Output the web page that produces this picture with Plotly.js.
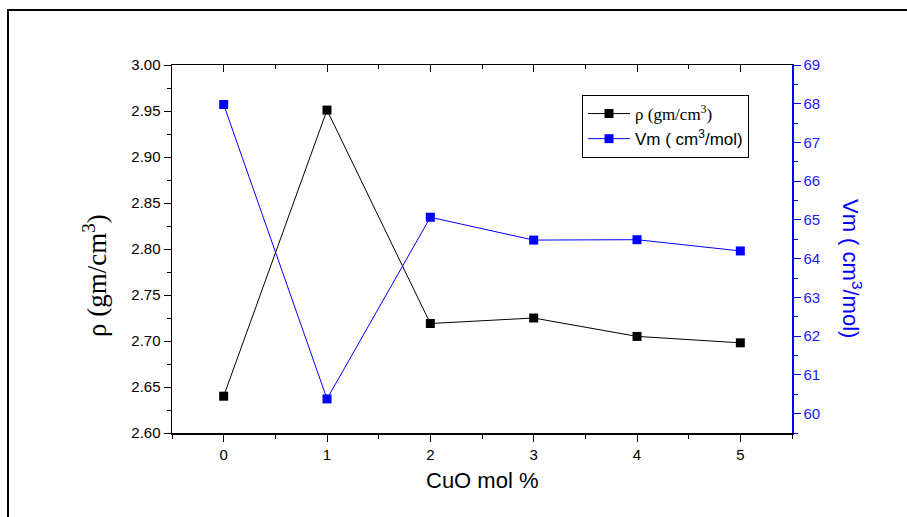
<!DOCTYPE html>
<html>
<head>
<meta charset="utf-8">
<script src="https://cdn.plot.ly/plotly-3.0.1.min.js"></script>
<style>
  html, body { margin: 0; padding: 0; background: #fff; }
  #wrap { position: relative; width: 907px; height: 517px; overflow: hidden; }
  #frame { position: absolute; left: 7px; top: 9px; width: 1000px; height: 1000px;
           border-left: 2.5px solid #000; border-top: 2.5px solid #000; pointer-events: none; z-index: 5; }
  #chart { position: absolute; left: 0; top: 0; width: 907px; height: 517px; }
</style>
</head>
<body>
<div id="wrap">
  <div id="chart"></div>
  <div id="frame"></div>
</div>
<script>
// Data
const cuoMolPct = [0, 1, 2, 3, 4, 5];
const density = [2.640, 2.951, 2.719, 2.725, 2.705, 2.698];   // rho (gm/cm^3)
const molarVolume = [67.98, 60.38, 65.07, 64.48, 64.49, 64.20]; // Vm (cm^3/mol)
const xTickVals = [0, 1, 2, 3, 4, 5];
const xTickText = ['0', '1', '2', '3', '4', '5'];

const rhoName = '<span style="font-family:\'Liberation Serif\',\'Times New Roman\',serif">ρ (gm/cm<sup>3</sup>)</span>';
const vmName = 'Vm ( cm<sup>3</sup>/mol)';

const traces = [
  {
    x: cuoMolPct, y: density, name: rhoName, type: 'scatter', mode: 'lines+markers',
    line: {color: '#000000', width: 1},
    marker: {symbol: 'square', size: 9, color: '#000000'},
    xaxis: 'x', yaxis: 'y', hoverinfo: 'x+y'
  },
  {
    x: cuoMolPct, y: molarVolume, name: vmName, type: 'scatter', mode: 'lines+markers',
    line: {color: '#0000ff', width: 1},
    marker: {symbol: 'square', size: 9, color: '#0000ff'},
    xaxis: 'x', yaxis: 'y2', hoverinfo: 'x+y'
  },
  {
    // empty helper trace so the mirrored top axis (inward ticks) is drawn
    x: [], y: [], xaxis: 'x2', yaxis: 'y', showlegend: false, hoverinfo: 'skip', type: 'scatter'
  }
];

const sans = 'Liberation Sans, Arial, sans-serif';
const tickFont = {family: sans, size: 15, color: '#000'};

const plotW = 907 - 172 - 115, plotH = 517 - 65 - 84;
const px2x = p => (p - 172) / plotW;
const py2y = p => 1 - (p - 65) / plotH;

const layout = {
  width: 907, height: 517,
  margin: {l: 172, r: 115, t: 65, b: 84},
  paper_bgcolor: '#fff', plot_bgcolor: '#fff',
  showlegend: true,
  legend: {
    x: px2x(582), y: py2y(95), xanchor: 'left', yanchor: 'top',
    bordercolor: '#000', borderwidth: 1, bgcolor: '#fff',
    font: {family: sans, size: 17, color: '#000'},
    itemwidth: 42, tracegroupgap: 0
  },
  xaxis: {
    range: [-0.5, 5.5], tickvals: xTickVals, ticktext: xTickText,
    ticks: 'outside', ticklen: 7, tickwidth: 1, tickcolor: '#000',
    minor: {dtick: 0.5, ticks: 'outside', ticklen: 4, tickwidth: 1, tickcolor: '#000'},
    showline: true, linecolor: '#000', linewidth: 1.5,
    showgrid: false, zeroline: false,
    tickfont: tickFont
  },
  xaxis2: {
    overlaying: 'x', matches: 'x', side: 'top', anchor: 'y',
    range: [-0.5, 5.5], tickvals: xTickVals, showticklabels: false,
    ticks: 'inside', ticklen: 7, tickwidth: 1, tickcolor: '#000',
    minor: {dtick: 0.5, ticks: 'inside', ticklen: 4, tickwidth: 1, tickcolor: '#000'},
    showline: true, linecolor: '#000', linewidth: 1.5,
    showgrid: false, zeroline: false
  },
  yaxis: {
    range: [2.60, 3.00], dtick: 0.05, tick0: 2.6, tickformat: '.2f',
    ticks: 'outside', ticklen: 7, tickwidth: 1, tickcolor: '#000',
    minor: {dtick: 0.025, ticks: 'outside', ticklen: 4, tickwidth: 1, tickcolor: '#000'},
    showline: true, linecolor: '#000', linewidth: 1.5,
    showgrid: false, zeroline: false,
    tickfont: tickFont
  },
  yaxis2: {
    overlaying: 'y', side: 'right', anchor: 'x',
    range: [59.5, 69], dtick: 1, tick0: 60,
    ticks: 'outside', ticklen: 7, tickwidth: 1, tickcolor: '#0000ff',
    minor: {dtick: 0.5, ticks: 'outside', ticklen: 4, tickwidth: 1, tickcolor: '#0000ff'},
    showline: true, linecolor: '#0000ff', linewidth: 1.5,
    showgrid: false, zeroline: false,
    tickfont: {family: sans, size: 15, color: '#1a1aff'}
  },
  annotations: [
    {
      text: 'CuO mol %',
      xref: 'paper', yref: 'paper', x: px2x(482), y: py2y(481), xanchor: 'center', yanchor: 'middle',
      showarrow: false,
      font: {family: sans, size: 22, color: '#000'}
    },
    {
      text: 'ρ (gm/cm<sup>3</sup>)', textangle: -90,
      xref: 'paper', yref: 'paper', x: px2x(95), y: py2y(276), xanchor: 'center', yanchor: 'middle',
      showarrow: false,
      font: {family: 'Liberation Serif, Times New Roman, serif', size: 27, color: '#000'}
    },
    {
      text: 'Vm ( cm<sup>3</sup>/mol)', textangle: 90,
      xref: 'paper', yref: 'paper', x: px2x(852), y: py2y(268), xanchor: 'center', yanchor: 'middle',
      showarrow: false,
      font: {family: sans, size: 22, color: '#0000ff'}
    }
  ]
};

Plotly.newPlot('chart', traces, layout, {displayModeBar: false, staticPlot: true});
</script>
</body>
</html>
